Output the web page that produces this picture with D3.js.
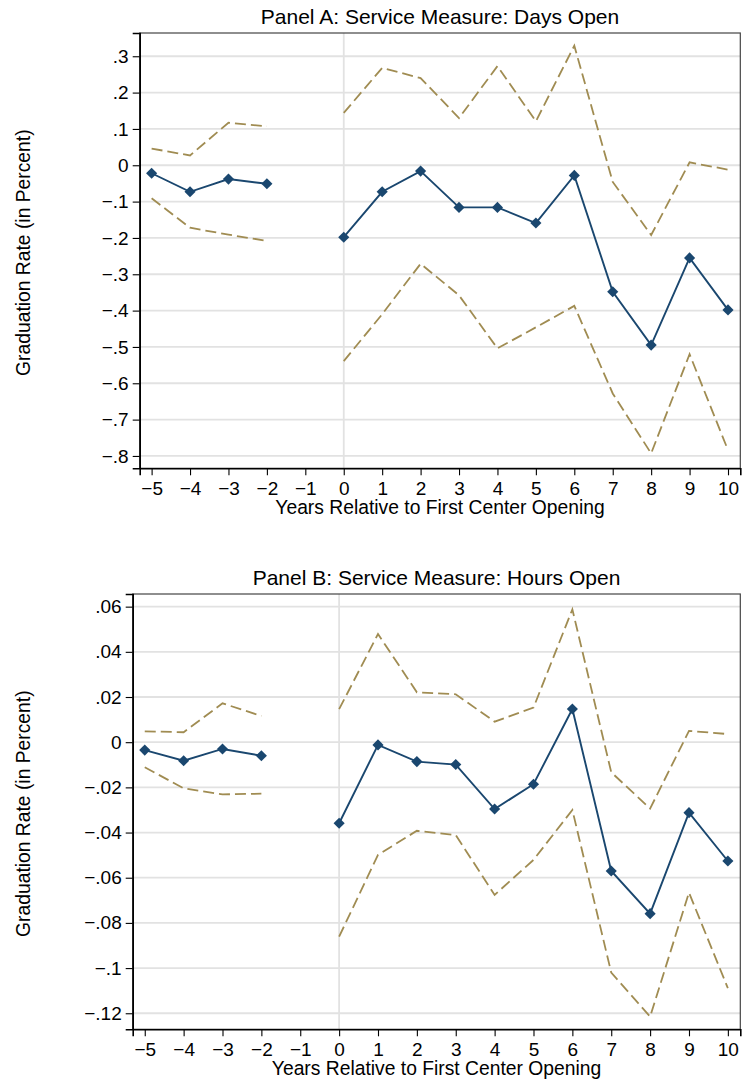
<!DOCTYPE html>
<html>
<head>
<meta charset="utf-8">
<script src="https://cdn.jsdelivr.net/npm/d3@7"></script>
<style>
  html, body { margin: 0; padding: 0; background: #fff; }
  svg { display: block; font-family: "Liberation Sans", Arial, Helvetica, sans-serif; }
</style>
</head>
<body>
<svg id="chart" width="743" height="1082"></svg>
<script>
// ---------- data ----------
const years = [-5, -4, -3, -2, -1, 0, 1, 2, 3, 4, 5, 6, 7, 8, 9, 10];
const xTicks = [-5, -4, -3, -2, -1, 0, 1, 2, 3, 4, 5, 6, 7, 8, 9, 10];
const xTickLabels = ["\u22125", "\u22124", "\u22123", "\u22122", "\u22121", "0", "1", "2", "3", "4", "5", "6", "7", "8", "9", "10"];

// Panel A: Days Open (null = omitted year -1)
const daysEst   = [-0.022, -0.073, -0.038, -0.051, null, -0.198, -0.073, -0.016, -0.116, -0.116, -0.159, -0.028, -0.348, -0.495, -0.255, -0.398];
const daysUpper = [0.046, 0.027, 0.117, 0.107, null, 0.144, 0.268, 0.240, 0.130, 0.273, 0.121, 0.329, -0.046, -0.192, 0.008, -0.012];
const daysLower = [-0.091, -0.172, -0.191, -0.208, null, -0.539, -0.410, -0.271, -0.358, -0.504, -0.446, -0.387, -0.628, -0.793, -0.520, -0.784];
const daysYTicks = [0.3, 0.2, 0.1, 0, -0.1, -0.2, -0.3, -0.4, -0.5, -0.6, -0.7, -0.8];
const daysYLabels = [".3", ".2", ".1", "0", "\u2212.1", "\u2212.2", "\u2212.3", "\u2212.4", "\u2212.5", "\u2212.6", "\u2212.7", "\u2212.8"];
const daysYDomain = [-0.834, 0.364];

// Panel B: Hours Open
const hoursEst   = [-0.0035, -0.0082, -0.0030, -0.0060, null, -0.0359, -0.0012, -0.0086, -0.0099, -0.0296, -0.0186, 0.0147, -0.0570, -0.0759, -0.0312, -0.0526];
const hoursUpper = [0.0048, 0.0044, 0.0172, 0.0116, null, 0.0146, 0.0479, 0.0221, 0.0212, 0.0091, 0.0153, 0.0588, -0.0133, -0.0294, 0.0050, 0.0036];
const hoursLower = [-0.0111, -0.0204, -0.0231, -0.0228, null, -0.0861, -0.0499, -0.0392, -0.0411, -0.0676, -0.0521, -0.0300, -0.1020, -0.1215, -0.0666, -0.1089];
const hoursYTicks = [0.06, 0.04, 0.02, 0, -0.02, -0.04, -0.06, -0.08, -0.10, -0.12];
const hoursYLabels = [".06", ".04", ".02", "0", "\u2212.02", "\u2212.04", "\u2212.06", "\u2212.08", "\u2212.1", "\u2212.12"];
const hoursYDomain = [-0.1271, 0.0656];

const xDomain = [-5.31, 10.32];

// ---------- styles / layout ----------
const NAVY = "#1a476f";
const SAND = "#a08c52";
const GRID = "#e2e2e2";

const svg = d3.select("#chart");

function drawPanel(cfg) {
  const { title, est, upper, lower, yTicks, yLabels, yDomain, left, right, top, bottom } = cfg;
  const g = svg.append("g");
  const x = d3.scaleLinear().domain(xDomain).range([left, right]);
  const y = d3.scaleLinear().domain(yDomain).range([bottom, top]);

  // horizontal grid
  g.append("g").selectAll("line").data(yTicks).join("line")
    .attr("x1", left).attr("x2", right)
    .attr("y1", d => y(d)).attr("y2", d => y(d))
    .attr("stroke", GRID).attr("stroke-width", 1.8);

  // vertical reference line at 0
  g.append("line")
    .attr("x1", x(0)).attr("x2", x(0))
    .attr("y1", top).attr("y2", bottom)
    .attr("stroke", GRID).attr("stroke-width", 1.8);

  // frame
  g.append("rect")
    .attr("x", left).attr("y", top)
    .attr("width", right - left).attr("height", bottom - top)
    .attr("fill", "none").attr("stroke", "#444").attr("stroke-width", 1.2);

  // axes
  const yAxis = d3.axisLeft(y).tickValues(yTicks)
    .tickFormat((d, i) => yLabels[i]).tickSize(7).tickPadding(4);
  const ya = g.append("g").attr("transform", `translate(${left},0)`).call(yAxis);
  ya.select(".domain").attr("stroke", "#000").attr("stroke-width", 1.6);
  ya.selectAll(".tick line").attr("stroke", "#000").attr("stroke-width", 1.1);
  ya.selectAll(".tick text").attr("font-size", 19).attr("fill", "#000")
    .attr("font-family", '"Liberation Sans", Arial, sans-serif');

  const xAxis = d3.axisBottom(x).tickValues(xTicks)
    .tickFormat((d, i) => xTickLabels[i]).tickSize(7).tickPadding(6);
  const xa = g.append("g").attr("transform", `translate(0,${bottom})`).call(xAxis);
  xa.select(".domain").attr("stroke", "#000").attr("stroke-width", 1.6);
  xa.selectAll(".tick line").attr("stroke", "#000").attr("stroke-width", 1.1);
  xa.selectAll(".tick text").attr("font-size", 19).attr("fill", "#000")
    .attr("font-family", '"Liberation Sans", Arial, sans-serif');

  const pts = arr => years.map((yr, i) => ({ yr, v: arr[i] }));
  const line = d3.line().defined(d => d.v !== null).x(d => x(d.yr)).y(d => y(d.v));

  // CI dashed lines
  [upper, lower].forEach(arr => {
    g.append("path").datum(pts(arr))
      .attr("d", line)
      .attr("fill", "none").attr("stroke", SAND)
      .attr("stroke-width", 1.8).attr("stroke-dasharray", "11,5");
  });

  // estimate line
  g.append("path").datum(pts(est))
    .attr("d", line)
    .attr("fill", "none").attr("stroke", NAVY).attr("stroke-width", 1.9);

  // diamond markers
  g.append("g").selectAll("path").data(pts(est).filter(d => d.v !== null)).join("path")
    .attr("d", d3.symbol().type(d3.symbolSquare).size(62))
    .attr("transform", d => `translate(${x(d.yr)},${y(d.v)}) rotate(45)`)
    .attr("fill", NAVY);

  // titles
  const cx = (left + right) / 2;
  g.append("text").attr("x", cx).attr("y", top - 9.5)
    .attr("text-anchor", "middle").attr("font-size", 21).attr("fill", "#000")
    .text(title);
  g.append("text").attr("x", cx).attr("y", bottom + 45.5)
    .attr("text-anchor", "middle").attr("font-size", 19.3).attr("fill", "#000")
    .text("Years Relative to First Center Opening");
  g.append("text")
    .attr("transform", `translate(30,${(top + bottom) / 2 + 2}) rotate(-90)`)
    .attr("text-anchor", "middle").attr("font-size", 19.3).attr("fill", "#000")
    .text("Graduation Rate (in Percent)");
}

drawPanel({
  title: "Panel A: Service Measure: Days Open",
  est: daysEst, upper: daysUpper, lower: daysLower,
  yTicks: daysYTicks, yLabels: daysYLabels, yDomain: daysYDomain,
  left: 139.7, right: 740.3, top: 33, bottom: 468.3
});

drawPanel({
  title: "Panel B: Service Measure: Hours Open",
  est: hoursEst, upper: hoursUpper, lower: hoursLower,
  yTicks: hoursYTicks, yLabels: hoursYLabels, yDomain: hoursYDomain,
  left: 132.7, right: 740.3, top: 594, bottom: 1029.3
});
</script>
</body>
</html>
